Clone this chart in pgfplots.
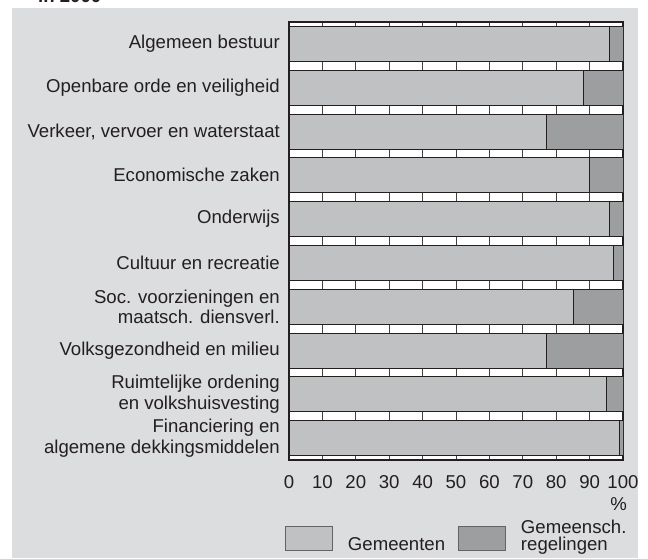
\documentclass[border=0pt]{standalone}
\usepackage{pgfplots}
\pgfplotsset{compat=1.18}
\usepackage{fontspec}
\setmainfont{Liberation Sans}
\definecolor{bgc}{RGB}{220,221,223}
\definecolor{lightbar}{RGB}{192,193,195}
\definecolor{darkbar}{RGB}{156,158,160}
\definecolor{txt}{RGB}{35,31,32}
\newcommand\lblfont{\fontsize{18.6}{20.5}\selectfont}
\newcommand\legfont{\fontsize{18.6}{17.5}\selectfont}
\begin{document}
\begin{tikzpicture}
\useasboundingbox (0pt,0pt) rectangle (648pt,-558pt);
\node[anchor=base west, inner sep=0pt, font=\bfseries\lblfont, text=txt] at (38pt,-2.5pt) {in 2000};
\fill[bgc] (12pt,-8pt) rectangle (638pt,-558pt);
\begin{axis}[
  at={(289pt,-460pt)}, anchor=south west,
  scale only axis, width=334pt, height=438pt,
  xmin=0, xmax=100, ymin=0.5, ymax=10.5, y dir=reverse,
  xbar stacked, bar width=35pt,
  xtick={0,10,...,100}, ytick={1,...,10},
  yticklabels={Algemeen bestuur,Openbare orde en veiligheid,{Verkeer, vervoer en waterstaat},Economische zaken,Onderwijs,Cultuur en recreatie,{Soc. voorzieningen en\\maatsch. diensverl.},Volksgezondheid en milieu,{Ruimtelijke ordening\\en volkshuisvesting},{Financiering en\\algemene dekkingsmiddelen}},
  major tick length=0pt,
  xmajorgrids, grid style={draw=txt!85, line width=0.7pt},
  axis background/.style={fill=white},
  axis line style={line width=1.1pt, draw=txt},
  tick label style={font=\lblfont, text=txt},
  /pgf/number format/assume math mode=true,
  yticklabel style={align=right, inner sep=0pt, xshift=-9pt},
  xticklabel style={inner sep=0pt, yshift=-15pt},
  xlabel={\%},
  xlabel style={at={(axis description cs:1,0)}, anchor=north east, inner sep=0pt, yshift=-37pt, xshift=4pt, font=\lblfont, text=txt},
  legend columns=2,
  legend style={at={(-0.012,-0.135)}, anchor=north west, draw=none, fill=none, inner sep=0pt,
    nodes={align=left, inner sep=0pt, font=\legfont, text=txt},
    /tikz/every odd column/.append style={column sep=15pt},
    /tikz/every even column/.append style={column sep=13pt}},
  legend image code/.code={\draw[#1, draw=txt!70, line width=0.8pt] (0pt,-15pt) rectangle (47pt,9pt);},
]
\addplot+[xbar, fill=lightbar, draw=txt, line width=0.8pt] coordinates {
  (96,1) (88,2) (77,3) (90,4) (96,5) (97,6) (85,7) (77,8) (95,9) (99,10)};
\addplot+[xbar, fill=darkbar, draw=txt, line width=0.8pt] coordinates {
  (4,1) (12,2) (23,3) (10,4) (4,5) (3,6) (15,7) (23,8) (5,9) (1,10)};
\legend{{\strut\\Gemeenten},{Gemeensch.\\regelingen}}
\end{axis}
\end{tikzpicture}
\end{document}
